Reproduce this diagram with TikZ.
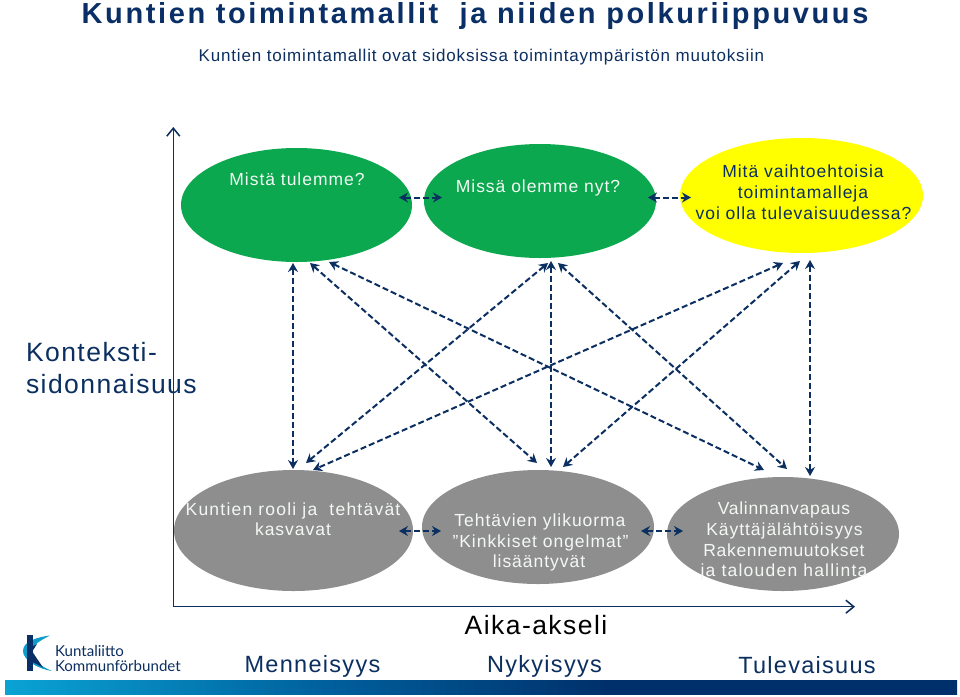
\documentclass[tikz,border=0pt]{standalone}
\usepackage{fontspec}
\setmainfont{Liberation Sans}
\newfontfamily\lsa[LetterSpace=5.5]{Liberation Sans}
\newfontfamily\lsc[LetterSpace=4]{Liberation Sans}
\newfontfamily\lsd[LetterSpace=7]{Liberation Sans}
\newfontfamily\lss[LetterSpace=4.8]{Liberation Sans}
\newfontfamily\lsb[LetterSpace=5.5]{Liberation Sans}
\newfontfamily\lst[LetterSpace=9,BoldFont={Liberation Sans Bold}]{Liberation Sans}
\newfontfamily\logofont{Lato}
\usetikzlibrary{arrows.meta,shapes.geometric}
\definecolor{navy}{HTML}{0B2F60}
\definecolor{titleblue}{HTML}{0A2F66}
\definecolor{ovalgreen}{HTML}{0BA84F}
\definecolor{ovalyellow}{HTML}{FFFF00}
\definecolor{ovalgrey}{HTML}{8E8E8E}
\definecolor{softwhite}{HTML}{F4F8F4}
\definecolor{logocyan}{HTML}{0E9CCB}
\pgfdeclarehorizontalshading{barshade}{100bp}{
  rgb(0bp)=(0.04,0.64,0.83);
  rgb(25bp)=(0.04,0.64,0.83);
  rgb(41.5bp)=(0,0.38,0.62);
  rgb(56.5bp)=(0,0.19,0.42);
  rgb(100bp)=(0,0.19,0.42)}
\tikzset{
  x=1pt,y=-1pt,
  oval/.style={ellipse,inner sep=0pt,minimum width=#1},
  ovalh/.style={minimum height=#1},
  lbl/.style={anchor=base,inner sep=0pt,outer sep=0pt,text=#1},
  body/.style={lbl=softwhite,font=\fontsize{17.5}{20}\selectfont\lsa},
  dark/.style={lbl=navy,font=\fontsize{17.5}{20}\selectfont\lsa},
  big/.style={lbl=navy,font=\fontsize{26.5}{30}\selectfont\lsb},
  period/.style={lbl=navy,font=\fontsize{23.5}{26}\selectfont\lsb},
  conn/.style={draw=navy,line width=2pt,dash pattern=on 6pt off 3pt,
    {Stealth[length=9pt,width=10pt,inset=3pt]}-{Stealth[length=9pt,width=10pt,inset=3pt]}},
  axisline/.style={draw=navy,line width=1.5pt,-{Straight Barb[length=8pt,width=13pt,line width=1.5pt]}}
}
\begin{document}
\begin{tikzpicture}
\useasboundingbox (0,0) rectangle (960,696);
\fill[white] (0,0) rectangle (960,696);

% ovals
\node[oval=231pt,ovalh=114pt,fill=ovalgreen] (past) at (296.5,205) {};
\node[oval=232pt,ovalh=114pt,fill=ovalgreen] (now) at (540,201) {};
\node[oval=243pt,ovalh=115pt,fill=ovalyellow] (future) at (801.5,195.5) {};
\node[oval=239pt,ovalh=121pt,fill=ovalgrey] (role) at (293.5,530.5) {};
\node[oval=232pt,ovalh=114pt,fill=ovalgrey] (tasks) at (538,527) {};
\node[oval=232pt,ovalh=114pt,fill=ovalgrey] (choice) at (783,534) {};

% axes
\coordinate (origin) at (173.3,606.7);
\coordinate (ytip) at (173.3,127);
\coordinate (xtip) at (855,606.7);
\draw[axisline] (origin) -- (ytip);
\draw[axisline] (origin) -- (xtip);

% connector ends
\coordinate (h1a) at (399,197.5); \coordinate (h1b) at (442,197.5);
\coordinate (h2a) at (648,197.5); \coordinate (h2b) at (691,197.5);
\coordinate (h3a) at (399,531);   \coordinate (h3b) at (441,531);
\coordinate (h4a) at (641,531);   \coordinate (h4b) at (683,531);
\coordinate (v1a) at (293,263);   \coordinate (v1b) at (293,469);
\coordinate (d2a) at (310,263);   \coordinate (d2b) at (537,463);
\coordinate (d3a) at (329,262);   \coordinate (d3b) at (764,470);
\coordinate (d4a) at (548,263);   \coordinate (d4b) at (306,463);
\coordinate (d5a) at (783,263);   \coordinate (d5b) at (313,470);
\coordinate (v2a) at (551,261);   \coordinate (v2b) at (551,467);
\coordinate (d6a) at (558,263);   \coordinate (d6b) at (787,469);
\coordinate (d7a) at (800,261);   \coordinate (d7b) at (563,467);
\coordinate (v3a) at (810,260);   \coordinate (v3b) at (810,476);
\foreach \p in {h1,h2,h3,h4,v1,d2,d3,d4,d5,v2,d6,d7,v3}
  \draw[conn] (\p a) -- (\p b);

% title
\node[lbl=titleblue,font=\fontsize{29}{32}\selectfont\lst\bfseries] (title) at (475,23) {Kuntien toimintamallit\ \ ja niiden polkuriippuvuus};
\node[lbl=navy,font=\fontsize{17}{20}\selectfont\lss] (subtitle) at (481.5,61) {Kuntien toimintamallit ovat sidoksissa toimintaympäristön muutoksiin};

% oval texts
\node[body] (t1) at (297,185) {Mistä tulemme?};
\node[body] (t2) at (538,192.7) {Missä olemme nyt?};
\node[dark] (t3a) at (803,177) {Mitä vaihtoehtoisia};
\node[dark] (t3b) at (803,198) {toimintamalleja};
\node[dark] (t3c) at (803.5,219) {voi olla tulevaisuudessa?};
\node[body,font=\fontsize{17.5}{20}\selectfont\lsd] (b1a) at (293,515) {Kuntien rooli ja\ \ tehtävät};
\node[body] (b1b) at (293,535) {kasvavat};
\node[body] (b2a) at (540,526) {Tehtävien ylikuorma};
\node[body] (b2b) at (540.5,547) {”Kinkkiset ongelmat”};
\node[body] (b2c) at (539,567) {lisääntyvät};
\node[body,font=\fontsize{17.5}{20}\selectfont\lsc] (b3a) at (784,514) {Valinnanvapaus};
\node[body] (b3b) at (784.5,535) {Käyttäjälähtöisyys};
\node[body,font=\fontsize{17.5}{20}\selectfont\lsc] (b3c) at (784,556) {Rakennemuutokset};
\node[body,font=\fontsize{17.5}{20}\selectfont\lsd] (b3d) at (784,576) {ja talouden hallinta};

% axis labels
\node[big,anchor=base west] (ka) at (26,361) {Konteksti-};
\node[big,anchor=base west] (kb) at (26,393) {sidonnaisuus};
\node[big,text=black] (aika) at (536,634) {Aika-akseli};
\node[period] (menn) at (312.5,672) {Menneisyys};
\node[period] (nyky) at (544.5,672) {Nykyisyys};
\node[period] (tule) at (807,673) {Tulevaisuus};

% logo
\fill[logocyan] (50,635.5) .. controls (38,637) and (23,641) .. (23,651)
  .. controls (23,660) and (38,669) .. (52,671)
  .. controls (42,667) and (32,660) .. (32,652)
  .. controls (32,645) and (41,640) .. (50,635.5) -- cycle;
\fill[titleblue] (26.5,635) rectangle (32.5,671);
\fill[titleblue] (32.5,651) -- (37,644) -- (32.5,646.5) -- cycle;
\fill[titleblue] (32.5,652) -- (43,667.5) -- (32.5,662) -- cycle;
\node[lbl=navy,anchor=base west,font=\fontsize{15.1}{16}\logofont] (logo1) at (55,656) {Kuntaliitto};
\node[lbl=navy,anchor=base west,font=\fontsize{15.1}{16}\logofont] (logo2) at (55,671) {Kommunförbundet};

% bottom bar
\path[shading=barshade] (5,680.7) rectangle (957,694.6);
\end{tikzpicture}
\end{document}
